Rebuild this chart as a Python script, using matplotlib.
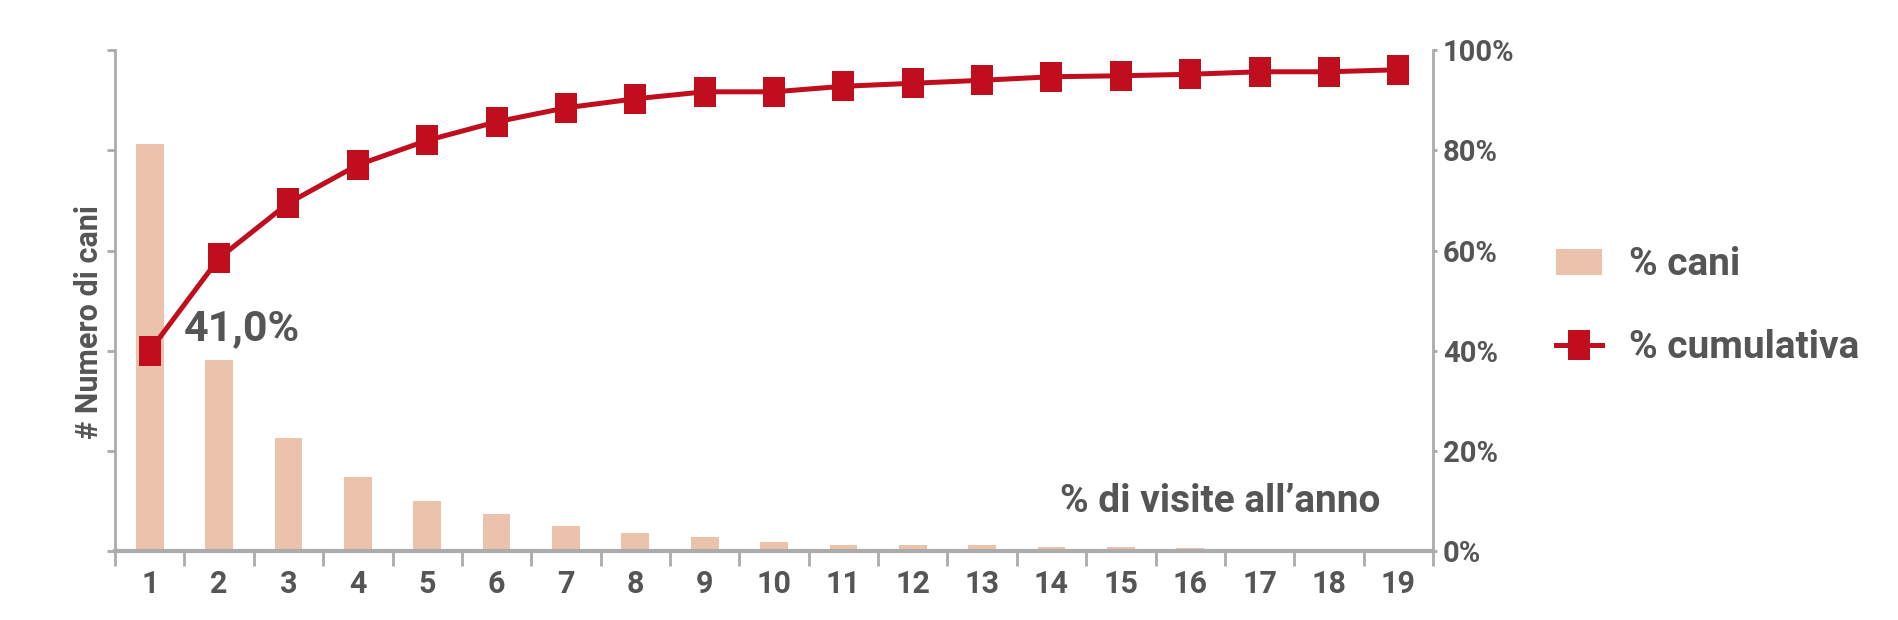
import matplotlib
matplotlib.use("Agg")
import matplotlib.pyplot as plt
from matplotlib.ticker import FixedLocator

# ---- data ----
categories = list(range(1, 20))
cat_labels = [str(c) for c in categories]
pct_cani = [81.2, 38.1, 22.6, 14.8, 10.0, 7.4, 5.1, 3.7, 2.8, 1.8,
            1.3, 1.3, 1.3, 0.8, 0.8, 0.6, 0.4, 0.4, 0.4]
pct_cumulativa = [40.0, 58.5, 69.5, 77.1, 82.0, 85.7, 88.5, 90.3, 91.7, 91.7,
                  92.8, 93.4, 94.0, 94.7, 94.9, 95.2, 95.7, 95.7, 96.1]
right_ticks = [0, 20, 40, 60, 80, 100]
right_tick_labels = ["0%", "20%", "40%", "60%", "80%", "100%"]
annotation_text = "41,0%"
xlabel_text = "% di visite all\u2019anno"
ylabel_text = "# Numero di cani"
legend_labels = ["% cani", "% cumulativa"]

# ---- style ----
FONT = ["Roboto", "DejaVu Sans"]
plt.rcParams["font.family"] = FONT
plt.rcParams["font.weight"] = "bold"
TXT = "#555555"
AXC = "#ABABAB"
BAR = "#EBC3AD"
RED = "#C10E1E"

fig = plt.figure(figsize=(18.99, 6.20), dpi=100)
ax = fig.add_axes([0.0606, 0.111, 0.694, 0.808])
ax2 = ax.twinx()

bars = ax.bar(categories, pct_cani, width=0.40, color=BAR, zorder=1, label=legend_labels[0])
ax.set_xlim(0.5, 19.5)
ax.set_ylim(0, 100)
ax2.set_ylim(0, 100)

rect_marker = [(-0.73, -1), (0.73, -1), (0.73, 1), (-0.73, 1)]
line, = ax2.plot(categories, pct_cumulativa, color=RED, lw=3.6,
                 marker=rect_marker, markersize=22, markeredgewidth=0,
                 zorder=3, label=legend_labels[1])

# spines
ax.spines["top"].set_visible(False)
ax2.spines["top"].set_visible(False)
ax.spines["right"].set_visible(False)
ax2.spines["left"].set_visible(False)
ax2.spines["bottom"].set_visible(False)
ax.spines["left"].set_color(AXC)
ax.spines["left"].set_linewidth(2)
ax.spines["bottom"].set_color(AXC)
ax.spines["bottom"].set_linewidth(3)
ax2.spines["right"].set_color(AXC)
ax2.spines["right"].set_linewidth(2)

# left ticks: marks only
ax.set_yticks(right_ticks)
ax.tick_params(axis="y", direction="out", length=6, width=2, color=AXC, labelleft=False)

# x ticks
ax.xaxis.set_major_locator(FixedLocator(categories))
ax.set_xticklabels(cat_labels)
ax.xaxis.set_minor_locator(FixedLocator([c - 0.5 for c in categories] + [19.5]))
ax.tick_params(axis="x", which="major", length=0, pad=13, labelsize=22, labelcolor=TXT)
ax.tick_params(axis="x", which="minor", length=11, width=2, color=AXC)

# right ticks
ax2.set_yticks(right_ticks)
ax2.set_yticklabels(right_tick_labels)
ax2.tick_params(axis="y", direction="out", length=3, width=2, color=AXC,
                pad=4, labelsize=21, labelcolor=TXT)

# texts
ax2.text(1.49, 44.4, annotation_text, ha="left", va="center", fontsize=31,
         color=TXT, fontweight="bold")
ax2.text(18.74, 10.0, xlabel_text, ha="right", va="center", fontsize=28,
         color=TXT, fontweight="bold")
fig.text(0.047, 0.481, ylabel_text, rotation=90, ha="center", va="center",
         fontsize=22, color=TXT, fontweight="bold")

leg = fig.legend(handles=[bars, line], labels=legend_labels, loc="center left",
                 bbox_to_anchor=(0.801, 0.506), frameon=False, fontsize=28,
                 handlelength=1.18, handleheight=0.65, handletextpad=0.70,
                 labelspacing=1.18, labelcolor=TXT)

fig.savefig("out.png", dpi=100, facecolor="white")
